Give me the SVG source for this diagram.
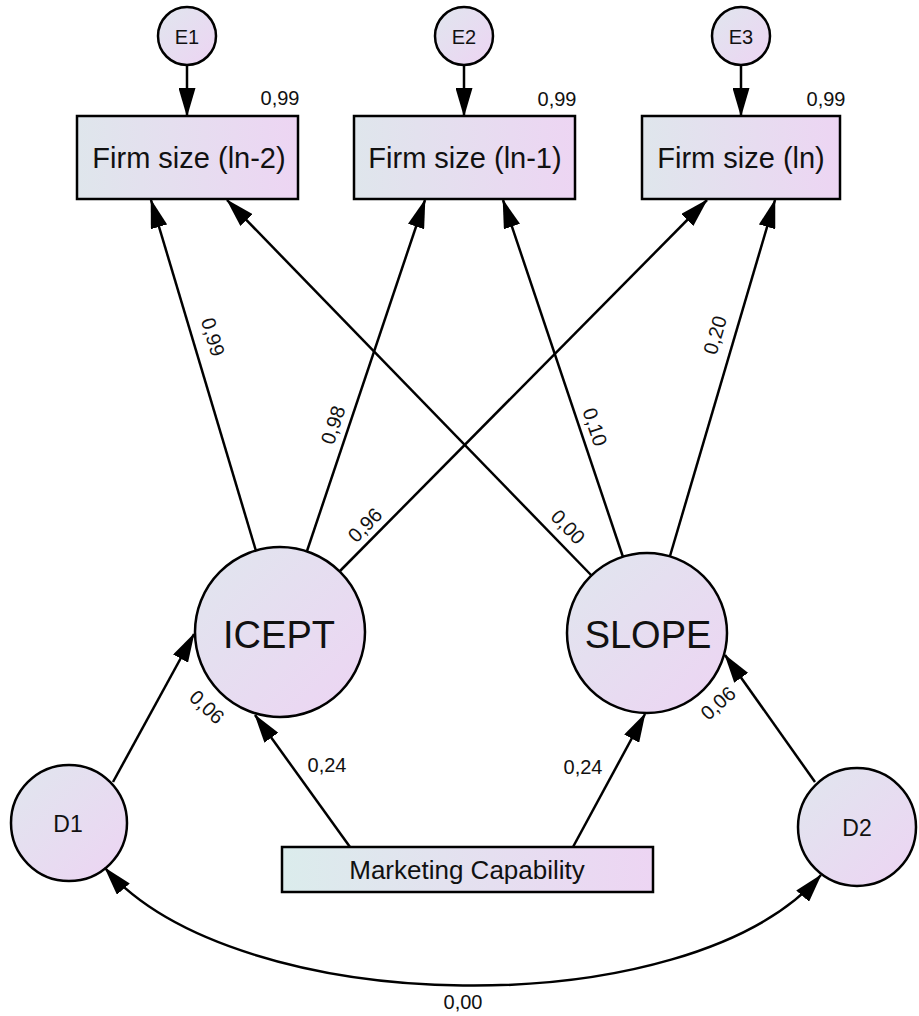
<svg xmlns="http://www.w3.org/2000/svg" width="919" height="1016" viewBox="0 0 919 1016">
<style>
.bx{stroke:#000;stroke-width:2.5;fill:url(#gb)}
.cm{stroke:#000;stroke-width:2.5;fill:url(#gc)}
.t{font-family:"Liberation Sans",Arial,sans-serif;fill:#111;text-anchor:middle;dominant-baseline:central}
.c{stroke:#000;stroke-width:2.5;fill:none;marker-end:url(#ah)}
.lb{font-family:"Liberation Sans",Arial,sans-serif;font-size:20px;fill:#111;text-anchor:middle;dominant-baseline:central}
</style>
<defs>
<linearGradient id="gb" x1="0" y1="0" x2="1" y2="0"><stop offset="0" stop-color="#dfe6ec"/><stop offset="1" stop-color="#edd5f3"/></linearGradient>
<linearGradient id="gc" x1="0" y1="0" x2="1" y2="1"><stop offset="0" stop-color="#e0e6ee"/><stop offset="1" stop-color="#edd4f3"/></linearGradient>
<linearGradient id="gm" x1="0" y1="0" x2="1" y2="0"><stop offset="0" stop-color="#dbecec"/><stop offset="1" stop-color="#edd5f3"/></linearGradient>
<marker id="ah" markerUnits="userSpaceOnUse" markerWidth="29" markerHeight="17" refX="28" refY="8.5" orient="auto-start-reverse" viewBox="0 0 29 17"><path d="M0,0 L29,8.5 L0,17 z" fill="#000"/></marker>
</defs>
<rect width="919" height="1016" fill="#fff"/>
<g id="E1"><circle class="cm" cx="187" cy="36" r="29"/><text class="t" x="187" y="37" font-size="20">E1</text></g>
<g id="E2"><circle class="cm" cx="464" cy="36" r="29"/><text class="t" x="464" y="37" font-size="20">E2</text></g>
<g id="E3"><circle class="cm" cx="741" cy="36" r="29"/><text class="t" x="741" y="37" font-size="20">E3</text></g>
<g id="Y1"><rect class="bx" x="77" y="116" width="221" height="83"/><text class="t" x="189" y="158" font-size="29">Firm size (ln-2)</text></g>
<g id="Y2"><rect class="bx" x="354" y="116" width="221" height="83"/><text class="t" x="465" y="158" font-size="29">Firm size (ln-1)</text></g>
<g id="Y3"><rect class="bx" x="642" y="116" width="198" height="83"/><text class="t" x="741" y="158" font-size="29">Firm size (ln)</text></g>
<g id="ICEPT"><circle class="cm" cx="280" cy="632" r="85"/><text class="t" x="279" y="635" font-size="38">ICEPT</text></g>
<g id="SLOPE"><circle class="cm" cx="647" cy="633" r="80"/><text class="t" x="648" y="635" font-size="38">SLOPE</text></g>
<g id="D1"><circle class="cm" cx="69" cy="823" r="58"/><text class="t" x="68" y="824" font-size="23">D1</text></g>
<g id="D2"><circle class="cm" cx="857" cy="827" r="59"/><text class="t" x="857" y="828" font-size="23">D2</text></g>
<g id="MC"><rect x="282" y="847" width="371" height="45" stroke="#000" stroke-width="2.5" fill="url(#gm)"/><text class="t" x="467" y="870" font-size="26">Marketing Capability</text></g>
<g id="connectors">
<line class="c" x1="187" y1="65" x2="187" y2="116"/>
<line class="c" x1="464" y1="65" x2="464" y2="116"/>
<line class="c" x1="741" y1="65" x2="741" y2="116"/>
<line class="c" x1="256" y1="551" x2="151" y2="200"/>
<line class="c" x1="307" y1="551" x2="425" y2="200"/>
<line class="c" x1="340" y1="571" x2="707" y2="200"/>
<line class="c" x1="592" y1="576" x2="227" y2="200"/>
<line class="c" x1="623" y1="557" x2="503" y2="200"/>
<line class="c" x1="670" y1="556" x2="775" y2="200"/>
<line class="c" x1="350" y1="847" x2="255" y2="715"/>
<line class="c" x1="573" y1="847" x2="645" y2="714"/>
<line class="c" x1="113" y1="782" x2="194" y2="634"/>
<line class="c" x1="815" y1="782" x2="725" y2="655"/>
<path class="c" d="M105,868 C237,1020 689,1027 821,875" style="marker-start:url(#ah)"/>
</g>
<g id="labels">
<text class="lb" x="280" y="98">0,99</text>
<text class="lb" x="557" y="99">0,99</text>
<text class="lb" x="826" y="99">0,99</text>
<text class="lb" transform="translate(213,337) rotate(73.4)">0,99</text>
<text class="lb" transform="translate(333,425) rotate(-71.6)">0,98</text>
<text class="lb" transform="translate(365,525) rotate(-45.5)">0,96</text>
<text class="lb" transform="translate(568,527) rotate(46)">0,00</text>
<text class="lb" transform="translate(595,427) rotate(71.6)">0,10</text>
<text class="lb" transform="translate(715,335) rotate(-73.7)">0,20</text>
<text class="lb" transform="translate(207,707) rotate(43)">0,06</text>
<text class="lb" transform="translate(718,703) rotate(-42)">0,06</text>
<text class="lb" x="327" y="765">0,24</text>
<text class="lb" x="583" y="767">0,24</text>
<text class="lb" x="463" y="1002">0,00</text>
</g>
</svg>
